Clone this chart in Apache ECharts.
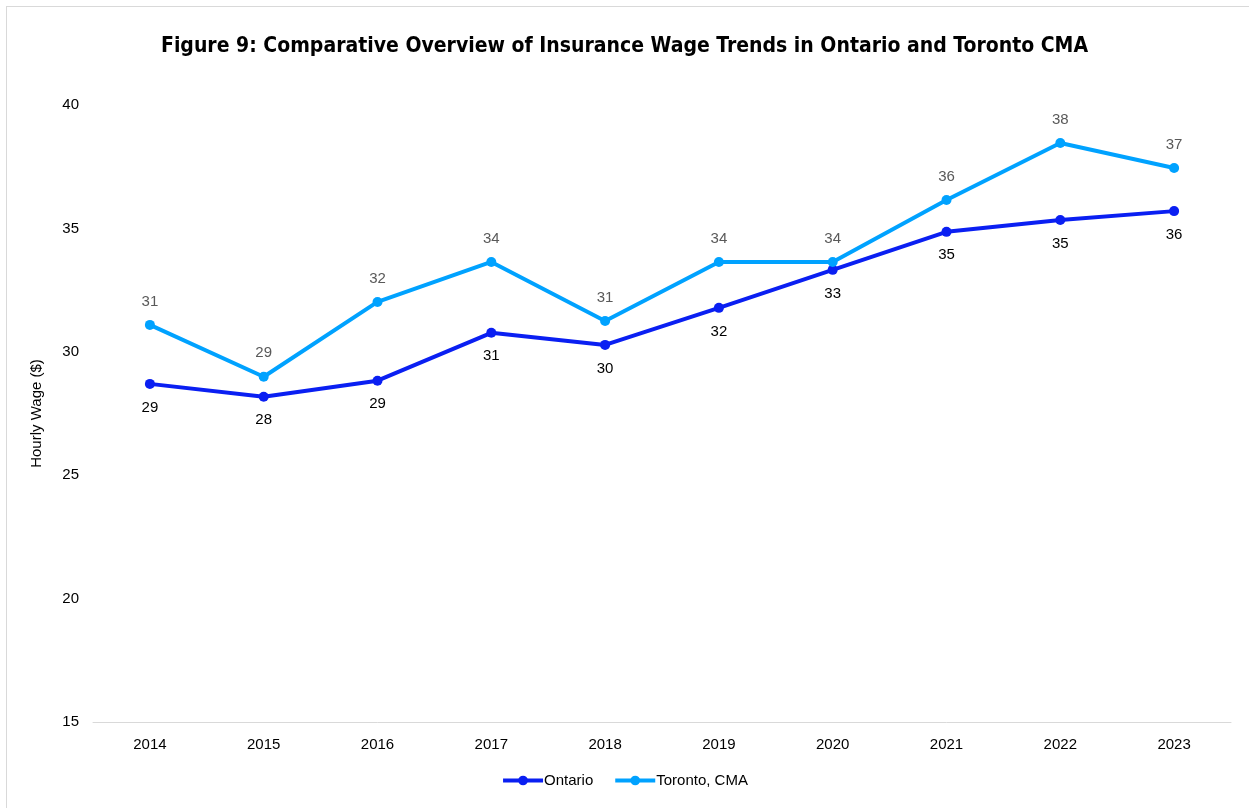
<!DOCTYPE html>
<html>
<head>
<meta charset="utf-8">
<script src="https://cdn.jsdelivr.net/npm/echarts@6/dist/echarts.min.js"></script>
<style>
  html, body { margin: 0; padding: 0; background: #fff; }
  #chart { width: 1249px; height: 808px; box-sizing: border-box; }
  .frame { position: absolute; left: 6px; top: 6px; right: -10px; bottom: -10px; border: 1px solid #d9d9d9; pointer-events: none; }
</style>
</head>
<body>
<div class="frame"></div>
<div id="chart"></div>
<script>
const years = ["2014", "2015", "2016", "2017", "2018", "2019", "2020", "2021", "2022", "2023"]
const ontario = [28.70, 28.18, 28.83, 30.77, 30.28, 31.78, 33.32, 34.86, 35.34, 35.70]
const toronto = [31.09, 28.99, 32.02, 33.64, 31.25, 33.64, 33.64, 36.15, 38.46, 37.45]

const chart = echarts.init(document.getElementById("chart"))
const font = "Liberation Sans, Arial, sans-serif"

chart.setOption({
  animation: false,
  title: {
    text: "Figure 9: Comparative Overview of Insurance Wage Trends in Ontario and Toronto CMA",
    left: "center",
    top: 31,
    textStyle: { fontFamily: "DejaVu Sans Condensed", fontSize: 21, fontWeight: "bold", color: "#000" },
  },
  legend: {
    bottom: 15,
    left: "center",
    itemWidth: 40,
    itemHeight: 12,
    itemGap: 20,
    lineStyle: { width: 4 },
    textStyle: { fontFamily: font, fontSize: 15, color: "#000", padding: [0, 0, 0, -4] },
    data: ["Ontario", "Toronto, CMA"],
  },
  grid: { left: 93, right: 18, top: 105, bottom: 86 },
  xAxis: {
    type: "category",
    data: years,
    axisLine: { lineStyle: { color: "#d9d9d9", width: 1 } },
    axisTick: { show: false },
    axisLabel: { fontFamily: font, fontSize: 15, color: "#000", margin: 15 },
  },
  yAxis: {
    type: "value",
    min: 15,
    max: 40,
    interval: 5,
    name: "Hourly Wage ($)",
    nameLocation: "middle",
    nameGap: 49,
    nameTextStyle: { fontFamily: font, fontSize: 15, color: "#000" },
    splitLine: { show: false },
    axisLine: { show: false },
    axisTick: { show: false },
    axisLabel: { fontFamily: font, fontSize: 15, color: "#000", margin: 14 },
  },
  series: [
    {
      name: "Ontario",
      type: "line",
      data: ontario,
      color: "#0a1ff2",
      symbol: "circle",
      symbolSize: 10,
      lineStyle: { width: 4 },
      label: {
        show: true, position: "bottom", distance: 11,
        fontFamily: font, fontSize: 15, color: "#000",
        formatter: p => Math.round(p.value),
      },
    },
    {
      name: "Toronto, CMA",
      type: "line",
      data: toronto,
      color: "#00a2ff",
      symbol: "circle",
      symbolSize: 10,
      lineStyle: { width: 4 },
      label: {
        show: true, position: "top", distance: 11,
        fontFamily: font, fontSize: 15, color: "#595959",
        formatter: p => Math.round(p.value),
      },
    },
  ],
})
</script>
</body>
</html>
